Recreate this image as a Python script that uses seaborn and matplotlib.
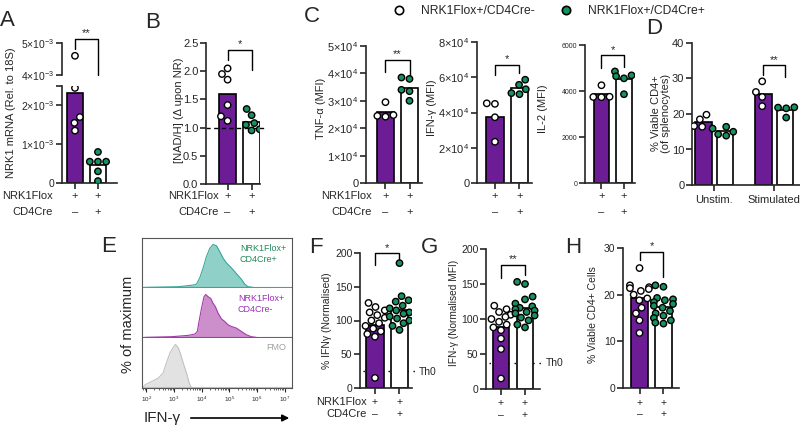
import matplotlib
matplotlib.use("Agg")
import matplotlib.pyplot as plt
import matplotlib.transforms as mtransforms
from matplotlib.lines import Line2D
import pandas as pd
import seaborn as sns

W, H = 800, 426
PURPLE = "#6c1d96"
GREEN = "#16915f"
GROUPS = ["Cre-", "Cre+"]
PT = 4.6  # scatter size

# ---- values ----
nrk1_neg = [4.6e-3, 2.45e-3, 1.7e-3, 1.55e-3, 1.35e-3]
nrk1_pos = [0.8e-3, 0.55e-3, 0.55e-3, 0.55e-3, 0.3e-3, 0.05e-3]
nad_neg = [2.05, 1.95, 1.85, 1.4, 1.2, 1.12]
nad_pos = [1.33, 1.22, 1.08, 1.05, 0.97, 0.95]
tnf_neg = [2.95e4, 2.42e4, 2.48e4, 2.45e4]
tnf_pos = [3.85e4, 3.8e4, 3.4e4, 3.35e4, 3.0e4]
ifn_neg = [4.49e4, 4.52e4, 3.73e4, 2.34e4]
ifn_pos = [5.86e4, 5.57e4, 5.32e4, 5.04e4, 5.1e4]
il2_neg = [4250, 3750, 3740, 3730]
il2_pos = [4850, 4680, 4640, 4550, 3860]

viab_conditions = ["Unstim.", "Stimulated"]
viab_unstim_neg = [18.5, 19.8, 16.6, 16.4]
viab_unstim_pos = [16.4, 15.9, 15.0, 14.3, 13.9]
viab_stim_neg = [29.2, 26.2, 24.8, 22.2]
viab_stim_pos = [21.9, 21.6, 21.8, 19.0]

ifn_pct_neg = [126, 120, 115, 112, 108, 104, 100, 96, 92, 88, 84, 80, 76, 15]
ifn_pct_pos = [185, 136, 130, 128, 122, 118, 115, 112, 110, 106, 103, 100, 96, 92, 86]
ifn_mfi_neg = [119, 114, 110, 106, 103, 100, 96, 92, 88, 84, 72, 57, 15]
ifn_mfi_pos = [153, 150, 132, 128, 122, 118, 116, 114, 112, 110, 108, 105, 102, 98, 92, 88]
cd4_neg = [25.7, 22, 21.6, 21.4, 21.2, 20.8, 20, 19.2, 18.8, 17.2, 16, 14.5, 11.8]
cd4_pos = [22, 21.7, 19.3, 19, 18.8, 18.4, 18, 17.6, 17.2, 16.5, 16, 15.5, 15, 14.5, 14, 13.8]

# flow histograms (log10 IFN-g, % of maximum)
flow_pos_log = [1.95, 3.16, 3.70, 3.82, 3.94, 4.06, 4.18, 4.30, 4.42, 4.54, 4.66, 4.78, 4.90, 5.08, 5.26, 5.44, 5.56, 5.68, 5.86]
flow_pos_pct = [0, 1.5, 5.3, 7.6, 22.7, 45.5, 72, 91, 100, 97, 83, 68, 57, 45.5, 32, 19, 7.6, 1.5, 0]
flow_neg_log = [1.95, 2.91, 3.52, 3.76, 3.85, 3.91, 4.0, 4.09, 4.15, 4.24, 4.33, 4.42, 4.5, 4.6, 4.72, 4.84, 4.96, 5.08, 5.26, 5.44, 5.62, 5.80, 5.98]
flow_neg_pct = [0, 1.5, 4.6, 7.7, 13.8, 36.9, 67.7, 94.6, 100, 94.6, 90.8, 79.2, 71.5, 56.2, 43.1, 36.9, 29.2, 25.4, 21.5, 13.8, 6.2, 1.5, 0]
flow_fmo_log = [1.89, 1.95, 2.19, 2.43, 2.61, 2.73, 2.86, 2.97, 3.06, 3.16, 3.25, 3.34, 3.46, 3.54, 3.61, 3.66]
flow_fmo_pct = [0, 5.5, 13.4, 21.3, 33.1, 56.7, 80.3, 92.1, 100, 92.1, 76.4, 56.7, 33.1, 13.4, 1.6, 0]

sns.set_style("ticks")
plt.rcParams["font.family"] = ["Liberation Sans", "DejaVu Sans"]
plt.rcParams["mathtext.fontset"] = "custom"
plt.rcParams["mathtext.rm"] = "Liberation Sans"
plt.rcParams["mathtext.default"] = "regular"

fig = plt.figure(figsize=(8, 4.26), dpi=100)


def add_axes(l, t, r, b):
    return fig.add_axes([l / W, 1 - b / H, (r - l) / W, (b - t) / H])


def fy(y):
    return 1 - y / H


def two_group(neg, pos):
    return pd.DataFrame({"group": ["Cre-"] * len(neg) + ["Cre+"] * len(pos),
                         "value": list(neg) + list(pos)})


def bars_and_points(ax, df, bars=True):
    if bars:
        sns.barplot(data=df, x="group", y="value", hue="group", order=GROUPS, hue_order=GROUPS,
                    palette={"Cre-": PURPLE, "Cre+": "white"}, saturation=1, errorbar=None,
                    width=0.7, edgecolor="black", linewidth=1.2, legend=False, ax=ax)
    sns.swarmplot(data=df, x="group", y="value", hue="group", order=GROUPS, hue_order=GROUPS,
                  palette={"Cre-": "white", "Cre+": GREEN}, size=PT, edgecolor="black",
                  linewidth=1, legend=False, warn_thresh=1, zorder=3, ax=ax)


def style(ax, xlim, ylim, yticks, ylabels=None, tsize=8):
    ax.set_xlim(xlim)
    ax.set_ylim(ylim)
    ax.set_yticks(yticks)
    if ylabels is not None:
        ax.set_yticklabels(ylabels)
    ax.set_xlabel("")
    ax.set_ylabel("")
    sns.despine(ax=ax)
    for s in ["left", "bottom"]:
        ax.spines[s].set_linewidth(1.2)
    ax.tick_params(width=1.2, length=4, labelsize=tsize, pad=1.5)


def geno(ax, rows_y, rows=(("+", "+"), ("\u2013", "+")), size=8):
    ax.set_xticks([0, 1])
    ax.tick_params(labelbottom=False)
    tr = mtransforms.blended_transform_factory(ax.transData, fig.transFigure)
    for y, row in zip(rows_y, rows):
        for i, s in enumerate(row):
            ax.text(i, fy(y), s, transform=tr, ha="center", va="center", fontsize=size)


def row_names(x, ys, size=8):
    for y, s in zip(ys, ["NRK1Flox", "CD4Cre"]):
        fig.text(x / W, fy(y), s, ha="right", va="center", fontsize=size)


def bracket(ax, x0, x1, top, lb, rb, stars, size=8):
    ax.plot([x0, x0, x1, x1], [lb, top, top, rb], color="black", lw=1, clip_on=False)
    ax.annotate(stars, (0.5 * (x0 + x1), top), xytext=(0, 0.5), textcoords="offset points",
                ha="center", va="bottom", fontsize=size, annotation_clip=False)


def ylab(text, x, y, size=8):
    fig.text(x / W, fy(y), text, rotation=90, ha="center", va="center", fontsize=size)


def letter(s, x, y):
    fig.text(x / W, fy(y), s, ha="center", va="center", fontsize=16)


def sci(m, e):
    return r"$%d{\times}10^{%d}$" % (m, e)


# ---- A : broken axis ----
dfA = two_group(nrk1_neg, nrk1_pos)
axA = add_axes(62, 86, 117, 183)
bars_and_points(axA, dfA)
style(axA, (-0.565, 1.83), (0, 2.5e-3), [0, 1e-3, 2e-3, 2.5e-3],
      ["0", sci(1, -3), sci(2, -3), ""], tsize=7.5)
geno(axA, [196, 212])
axA2 = add_axes(62, 43, 117, 75)
bars_and_points(axA2, dfA, bars=False)
style(axA2, (-0.565, 1.83), (4e-3, 5e-3), [4e-3, 5e-3], [sci(4, -3), sci(5, -3)], tsize=7.5)
axA2.spines["bottom"].set_visible(False)
axA2.tick_params(axis="x", bottom=False, labelbottom=False)
bracket(axA2, 0, 1, 5.13e-3, 4.8e-3, 4.0e-3, "**")
row_names(53, [196, 212])
ylab("NRK1 mRNA (Rel. to 18S)", 11, 113)
letter("A", 7, 21)

# ---- B ----
axB = add_axes(206, 43, 260, 184)
axB.axhline(1.0, xmin=0, xmax=(265 - 206) / (260 - 206), color="black", lw=1,
            ls=(0, (3, 2.5)), clip_on=False, zorder=2.5)
bars_and_points(axB, two_group(nad_neg, nad_pos))
style(axB, (-0.9, 1.35), (0, 2.5), [0, 0.5, 1.0, 1.5, 2.0, 2.5],
      ["0.0", "0.5", "1.0", "1.5", "2.0", "2.5"])
geno(axB, [196, 212])
bracket(axB, 0, 1, 2.38, 2.2, 2.02, "*")
row_names(219, [196, 212])
ylab("[NAD/H] (\u0394 upon NR)", 179, 110)
letter("B", 153, 22)

# ---- C : three cytokines ----
axC1 = add_axes(366, 46, 422, 183)
bars_and_points(axC1, two_group(tnf_neg, tnf_pos))
style(axC1, (-0.81, 1.52), (0, 5e4), [0, 1e4, 2e4, 3e4, 4e4, 5e4],
      ["0"] + [sci(i, 4) for i in range(1, 6)])
geno(axC1, [196, 212])
bracket(axC1, 0, 1, 4.49e4, 4.06e4, 3.95e4, "**")
row_names(372, [196, 212])
ylab("TNF-\u03b1 (MFI)", 321, 108)

axC2 = add_axes(477, 42, 532, 183)
bars_and_points(axC2, two_group(ifn_neg, ifn_pos))
style(axC2, (-0.73, 1.51), (0, 8e4), [0, 2e4, 4e4, 6e4, 8e4],
      ["0"] + [sci(i, 4) for i in (2, 4, 6, 8)])
geno(axC2, [196, 212])
bracket(axC2, 0, 1, 6.7e4, 6.1e4, 6.25e4, "*")
ylab("IFN-\u03b3 (MFI)", 432, 108)

axC3 = add_axes(585, 45, 635, 183)
bars_and_points(axC3, two_group(il2_neg, il2_pos))
style(axC3, (-0.73, 1.49), (0, 6000), [0, 2000, 4000, 6000], tsize=5)
geno(axC3, [196, 212])
bracket(axC3, 0, 1, 5550, 4985, 5040, "*")
ylab("IL-2 (MFI)", 543, 109)
letter("C", 312, 16)

# ---- D ----
dfD = pd.DataFrame({
    "condition": [viab_conditions[0]] * (len(viab_unstim_neg) + len(viab_unstim_pos))
    + [viab_conditions[1]] * (len(viab_stim_neg) + len(viab_stim_pos)),
    "group": ["Cre-"] * len(viab_unstim_neg) + ["Cre+"] * len(viab_unstim_pos)
    + ["Cre-"] * len(viab_stim_neg) + ["Cre+"] * len(viab_stim_pos),
    "value": viab_unstim_neg + viab_unstim_pos + viab_stim_neg + viab_stim_pos,
})
axD = add_axes(692, 43, 800, 185)
sns.barplot(data=dfD, x="condition", y="value", hue="group", order=viab_conditions, hue_order=GROUPS,
            palette={"Cre-": PURPLE, "Cre+": "white"}, saturation=1, errorbar=None,
            width=0.72, gap=0.25, edgecolor="black", linewidth=1.2, legend=False, ax=axD)
sns.swarmplot(data=dfD, x="condition", y="value", hue="group", order=viab_conditions, hue_order=GROUPS,
              palette={"Cre-": "white", "Cre+": GREEN}, dodge=True, size=PT, edgecolor="black",
              linewidth=1, legend=False, warn_thresh=1, zorder=3, ax=axD)
style(axD, (-0.37, 1.43), (0, 40), [0, 10, 20, 30, 40])
axD.tick_params(axis="x", labelsize=8, pad=3)
bracket(axD, 0.82, 1.18, 33.7, 30.9, 30.3, "**")
fig.text(661 / W, fy(113), "% Viable CD4+\n(of splenocytes)", rotation=90, ha="center",
         va="center", fontsize=8, linespacing=1.1)
letter("D", 654, 29)

# ---- legend ----
handles = [Line2D([], [], ls="none", marker="o", ms=6, mfc="white", mec="black", mew=1.2),
           Line2D([], [], ls="none", marker="o", ms=6, mfc=GREEN, mec="black", mew=1.2)]
fig.legend(handles, ["NRK1Flox+/CD4Cre-", "NRK1Flox+/CD4Cre+"], loc="center",
           bbox_to_anchor=(546 / W, fy(11)), ncol=2, frameon=False, fontsize=8.7,
           handletextpad=0.8, columnspacing=1.6, borderaxespad=0)

# ---- E : flow histograms ----
flows = [
    (flow_pos_log, flow_pos_pct, "#8fd0c8", "#37a89b"),
    (flow_neg_log, flow_neg_pct, "#cc8fcc", "#a33aab"),
    (flow_fmo_log, flow_fmo_pct, "#e2e2e2", "#c2c2c2"),
]
axesE = []
for k, (lx, pct, fill, line) in enumerate(flows):
    ax = add_axes(142, 238 + 50 * k, 292, 288 + 50 * k)
    xs = [10 ** v for v in lx]
    ax.fill_between(xs, pct, 0, color=fill, lw=0)
    ax.plot(xs, pct, color=line, lw=0.8)
    ax.axhline(0, color=line, lw=0.8)
    ax.set_xscale("log")
    ax.set_xlim(10 ** 1.85, 10 ** 7.27)
    ax.set_ylim(-1.5, 115)
    ax.set_yticks([])
    for s in ax.spines.values():
        s.set_linewidth(0.8)
        s.set_color("#555555")
    ax.spines["top"].set_visible(k == 0)
    ax.spines["bottom"].set_visible(k == 2)
    if k < 2:
        ax.tick_params(axis="x", which="both", bottom=False, labelbottom=False)
    axesE.append(ax)
axE = axesE[2]
axE.set_xticks([10 ** i for i in range(2, 8)])
axE.tick_params(axis="x", which="major", labelsize=4.5, length=3, width=0.8, pad=1.5)
axE.tick_params(axis="x", which="minor", length=1.5, width=0.5)
fig.text(240 / W, fy(254), "NRK1Flox+\nCD4Cre+", color="#24885a", fontsize=6.5, ha="left",
         va="center", linespacing=1.3)
fig.text(238 / W, fy(304), "NRK1Flox+\nCD4Cre-", color="#9b30b5", fontsize=6.5, ha="left",
         va="center", linespacing=1.3)
fig.text(286 / W, fy(347), "FMO", color="#a0a0a0", fontsize=6.5, ha="right", va="center")
fig.text(144 / W, fy(418), "IFN-\u03b3", fontsize=11, ha="left", va="center")
axE.annotate("", xy=(292 / W, fy(418)), xytext=(188 / W, fy(418)), xycoords="figure fraction",
             textcoords="figure fraction",
             arrowprops=dict(arrowstyle="-|>", lw=1.2, color="black", mutation_scale=10))
ylab("% of maximum", 128, 324, size=10.5)
letter("E", 109, 246)

# ---- F ----
axF = add_axes(360, 253, 412, 388)
axF.axhline(25, xmin=(363 - 360) / 52, xmax=(416 - 360) / 52, color="black", lw=1,
            ls=(0, (1, 3.5)), clip_on=False, zorder=0.5)
bars_and_points(axF, two_group(ifn_pct_neg, ifn_pct_pos))
style(axF, (-0.61, 1.51), (0, 200), [0, 50, 100, 150, 200], tsize=7.5)
geno(axF, [402, 414], size=7.5)
bracket(axF, 0, 1, 199.5, 182, 191, "*")
row_names(367, [402, 414], size=8)
fig.text(419 / W, fy(372), "Th0", fontsize=7.5, ha="left", va="center")
ylab("% IFN\u03b3 (Normalised)", 327, 321, size=7.5)
letter("F", 316, 247)

# ---- G ----
axG = add_axes(486, 249, 540, 389)
axG.axhline(37, xmin=0.05, xmax=(543 - 486) / 54, color="black", lw=1,
            ls=(0, (1, 3.5)), clip_on=False, zorder=0.5)
bars_and_points(axG, two_group(ifn_mfi_neg, ifn_mfi_pos))
style(axG, (-0.625, 1.625), (0, 200), [0, 50, 100, 150, 200], tsize=7.5)
geno(axG, [403, 415], size=7.5)
bracket(axG, 0, 1, 177, 158, 163, "**")
fig.text(546 / W, fy(363), "Th0", fontsize=7.5, ha="left", va="center")
ylab("IFN-\u03b3 (Normalised MFI)", 454, 313, size=7.3)
letter("G", 430, 248)

# ---- H ----
axH = add_axes(623, 248, 679, 388)
bars_and_points(axH, two_group(cd4_neg, cd4_pos))
style(axH, (-0.69, 1.65), (0, 30), [0, 10, 20, 30], tsize=7.5)
geno(axH, [403, 414], size=7.5)
bracket(axH, 0, 1, 29.2, 27.4, 23.8, "*")
ylab("% Viable CD4+ Cells", 593, 315, size=7.5)
letter("H", 573, 248)

fig.savefig("out.png", dpi=100)
